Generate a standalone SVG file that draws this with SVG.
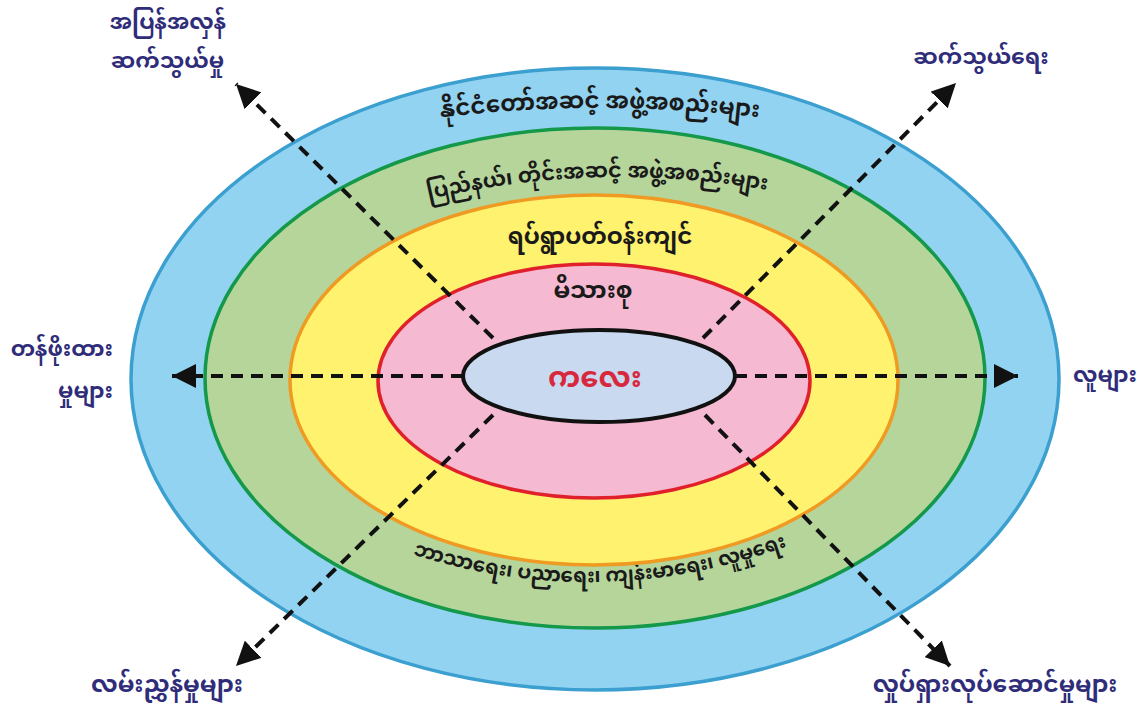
<svg xmlns="http://www.w3.org/2000/svg" width="1142" height="712" viewBox="0 0 1142 712">
<style>
.outer{font-family:"Noto Sans Myanmar","Padauk","Myanmar Text","Noto Sans",sans-serif;font-size:22px;font-weight:bold;fill:#2f2d7a}
.band{font-family:"Noto Sans Myanmar","Padauk","Myanmar Text","Noto Sans",sans-serif;font-size:21px;font-weight:bold;fill:#1a1a1a}
.core{font-family:"Noto Sans Myanmar","Padauk","Myanmar Text","Noto Sans",sans-serif;font-size:29px;font-weight:bold;fill:#d8283e}
.arrow{stroke:#111;stroke-width:4;stroke-dasharray:12 8;fill:none}
</style>
<defs>
<marker id="ah" markerUnits="userSpaceOnUse" markerWidth="26" markerHeight="24" refX="24" refY="12" orient="auto">
<path d="M0,0 L24,12 L0,24 z" fill="#111"/>
</marker>
<path id="pTop" d="M420,120 Q600,96 780,120"/>
<path id="pGreen" d="M418,202 Q595,158 778,192"/>
<path id="pBottom" d="M418,556 Q600,612 782,548"/>
</defs>
<rect width="1142" height="712" fill="#ffffff"/>
<g id="ring-national">
<ellipse cx="595" cy="379" rx="464" ry="311" fill="#92d3f1" stroke="#3b9fcf" stroke-width="3.5"/>
<text class="band" style="font-size:23px"><textPath href="#pTop" startOffset="50%" text-anchor="middle">နိုင်ငံတော်အဆင့် အဖွဲ့အစည်းများ</textPath></text>
</g>
<g id="ring-state">
<ellipse cx="595" cy="378" rx="390" ry="250" fill="#b5d59b" stroke="#14984a" stroke-width="3.5"/>
<text class="band"><textPath href="#pGreen" startOffset="50%" text-anchor="middle">ပြည်နယ်၊ တိုင်းအဆင့် အဖွဲ့အစည်းများ</textPath></text>
<text class="band" style="font-size:20px"><textPath href="#pBottom" startOffset="50%" text-anchor="middle">ဘာသာရေး၊ ပညာရေး၊ ကျန်းမာရေး၊ လူမှုရေး</textPath></text>
</g>
<g id="ring-community">
<ellipse cx="594" cy="380" rx="304" ry="185" fill="#fff26e" stroke="#ef9a22" stroke-width="3.5"/>
<text class="band" style="font-size:23px" x="600" y="244" text-anchor="middle">ရပ်ရွာပတ်ဝန်းကျင်</text>
</g>
<g id="ring-family">
<ellipse cx="594" cy="381" rx="216" ry="117" fill="#f5b9d1" stroke="#e0212b" stroke-width="3.5"/>
<text class="band" style="font-size:24px" x="593" y="298" text-anchor="middle">မိသားစု</text>
</g>
<g id="child">
<ellipse cx="599" cy="376" rx="136" ry="46" fill="#c9d9ef" stroke="#111" stroke-width="4"/>
<text class="core" x="595" y="387" text-anchor="middle">ကလေး</text>
</g>
<g id="connectors">
<line class="arrow" x1="493" y1="338" x2="236" y2="84" marker-end="url(#ah)"/>
<line class="arrow" x1="703" y1="338" x2="956" y2="83" marker-end="url(#ah)"/>
<line class="arrow" x1="493" y1="415" x2="236" y2="666" marker-end="url(#ah)"/>
<line class="arrow" x1="705" y1="415" x2="950" y2="666" marker-end="url(#ah)"/>
<line class="arrow" x1="463" y1="376" x2="172" y2="376" marker-end="url(#ah)"/>
<line class="arrow" x1="735" y1="376" x2="1018" y2="376" marker-end="url(#ah)"/>
</g>
<g id="label-mutual">
<text class="outer" x="226" y="29" text-anchor="end">အပြန်အလှန်</text>
<text class="outer" x="224" y="68" text-anchor="end">ဆက်သွယ်မှု</text>
</g>
<g id="label-communication">
<text class="outer" x="981" y="64" text-anchor="middle">ဆက်သွယ်ရေး</text>
</g>
<g id="label-values">
<text class="outer" x="113" y="356" text-anchor="end">တန်ဖိုးထား</text>
<text class="outer" x="113" y="398" text-anchor="end">မှုများ</text>
</g>
<g id="label-people">
<text class="outer" x="1073" y="382">လူများ</text>
</g>
<g id="label-guidance">
<text class="outer" style="font-size:24px" x="167" y="692" text-anchor="middle">လမ်းညွှန်မှုများ</text>
</g>
<g id="label-activities">
<text class="outer" style="font-size:23.5px" x="995" y="692" text-anchor="middle">လှုပ်ရှားလုပ်ဆောင်မှုများ</text>
</g>
</svg>
